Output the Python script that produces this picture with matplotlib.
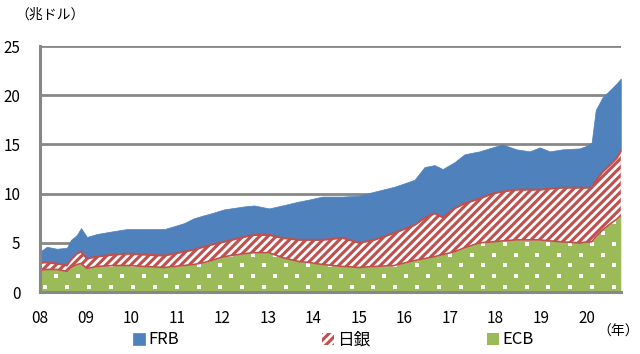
import matplotlib
matplotlib.use("Agg")
import matplotlib.pyplot as plt
import numpy as np

plt.rcParams['font.family'] = ['Noto Sans CJK JP', 'DejaVu Sans']
plt.rcParams['hatch.linewidth'] = 2.0

# decimal year of each reading
dates = [2008.00, 2008.15, 2008.37, 2008.59, 2008.68, 2008.81, 2008.90, 2009.03,
         2009.25, 2009.63, 2009.91, 2010.29, 2010.73, 2010.95, 2011.16, 2011.38,
         2011.60, 2011.76, 2012.04, 2012.48, 2012.70, 2013.03, 2013.32, 2013.69,
         2013.91, 2014.20, 2014.64, 2015.01, 2015.34, 2015.78, 2016.22, 2016.44,
         2016.66, 2016.84, 2017.10, 2017.32, 2017.65, 2017.93, 2018.15, 2018.46,
         2018.75, 2018.97, 2019.19, 2019.47, 2019.85, 2020.02, 2020.11, 2020.20,
         2020.35, 2020.51, 2020.66, 2020.75]
# trillion USD
frb = [1.1, 1.6, 1.5, 1.8, 2.0, 1.9, 2.4, 2.2, 2.3, 2.4, 2.5, 2.6, 2.7, 2.8, 2.9, 3.2,
       3.2, 3.2, 3.3, 3.1, 3.0, 2.7, 3.3, 3.9, 4.1, 4.4, 4.2, 4.8, 4.9, 4.7, 4.6, 5.2,
       4.9, 4.9, 4.7, 5.0, 4.8, 4.7, 4.8, 4.1, 3.9, 4.3, 3.8, 3.9, 4.0, 4.3, 4.6, 7.2,
       7.6, 7.6, 7.6, 7.4]
boj = [0.8, 0.7, 0.6, 0.6, 0.8, 1.1, 1.2, 1.0, 1.0, 1.1, 1.2, 1.2, 1.2, 1.3, 1.4, 1.5,
       1.6, 1.6, 1.5, 1.7, 1.8, 1.8, 2.0, 2.2, 2.3, 2.5, 2.9, 2.5, 2.7, 3.3, 3.6, 4.1,
       4.4, 3.8, 4.4, 4.5, 4.5, 4.9, 5.0, 5.1, 5.1, 5.1, 5.3, 5.5, 5.6, 5.5, 5.5, 5.7,
       5.9, 6.0, 6.2, 6.5]
ecb = [2.2, 2.3, 2.3, 2.1, 2.5, 2.8, 2.9, 2.4, 2.6, 2.7, 2.7, 2.6, 2.5, 2.6, 2.7, 2.8,
       3.0, 3.2, 3.6, 3.9, 4.0, 4.0, 3.5, 3.1, 3.0, 2.8, 2.6, 2.5, 2.6, 2.7, 3.2, 3.4,
       3.6, 3.8, 4.1, 4.5, 5.0, 5.1, 5.2, 5.3, 5.3, 5.3, 5.2, 5.1, 5.0, 5.1, 5.1, 5.6,
       6.3, 6.9, 7.4, 7.8]

year_ticks = list(range(2008, 2021))
year_labels = ['08', '09', '10', '11', '12', '13', '14', '15', '16', '17', '18', '19', '20']
legend_names = ['FRB', '日銀', 'ECB']

BLUE = '#4F81BD'
RED = '#C0504D'
GREEN = '#9BBB59'
GRAY = '#878787'

x = np.array(dates)
e = np.array(ecb)
b = e + np.array(boj)
t = b + np.array(frb)

fig = plt.figure(figsize=(6.4, 3.54), dpi=100)
ax = fig.add_axes([0.0625, 0.175, 0.9075, 0.695])

h_frb = ax.fill_between(x, b, t, facecolor=BLUE, edgecolor=BLUE, linewidth=0.5, zorder=2)
h_boj = ax.fill_between(x, e, b, facecolor=RED, edgecolor='white', hatch='////', linewidth=0, zorder=2)
ax.plot(x, b, color=RED, lw=1.5, zorder=3)
ax.plot(x, e, color=RED, lw=1.2, zorder=3)
h_ecb = ax.fill_between(x, 0, e, facecolor=GREEN, edgecolor=GREEN, linewidth=0, zorder=2)

# white dot texture on the ECB area (staggered grid), clipped to the area
row_step, col_step = 1.1, 0.48
pts_x, pts_y = [], []
for i, yy in enumerate(np.arange(0.5, 25, row_step)):
    off = 0.0 if i % 2 == 0 else col_step / 2
    xs = np.arange(2008.12 + off, 2020.75, col_step)
    pts_x.extend(xs)
    pts_y.extend([yy] * len(xs))
dots = ax.scatter(pts_x, pts_y, marker='s', s=7, c='white', linewidths=0, zorder=2.5)
dots.set_clip_path(h_ecb.get_paths()[0], ax.transData)

ax.set_xlim(2008, 2020.75)
ax.set_ylim(0, 25)
ax.set_yticks([0, 5, 10, 15, 20, 25])
ax.set_xticks(year_ticks)
ax.set_xticklabels(year_labels)
ax.yaxis.grid(True, color=GRAY, lw=2)
ax.set_axisbelow(True)
for s in ['top', 'right']:
    ax.spines[s].set_visible(False)
for s in ['left', 'bottom']:
    ax.spines[s].set_color(GRAY)
    ax.spines[s].set_linewidth(2.2)
    ax.spines[s].set_zorder(4)
ax.tick_params(axis='x', direction='in', length=4, width=1.5, color=GRAY,
               labelsize=11, pad=13)
ax.tick_params(axis='y', length=0, labelsize=11, pad=14)

fig.text(15 / 640, 1 - 15 / 354, '（兆ドル）', fontsize=10, ha='left', va='center')
fig.text(639 / 640, 1 - 332 / 354, '（年）', fontsize=10, ha='right', va='center')

for h, name, xp in zip([h_frb, h_boj, h_ecb], legend_names, [133, 322, 487]):
    fig.legend([h], [name], loc='center left', bbox_to_anchor=(xp / 640, 1 - 340 / 354),
               frameon=False, fontsize=12, handlelength=0.7, handleheight=0.7,
               handletextpad=0.2, borderpad=0, borderaxespad=0)

fig.savefig('out.png', dpi=100)
